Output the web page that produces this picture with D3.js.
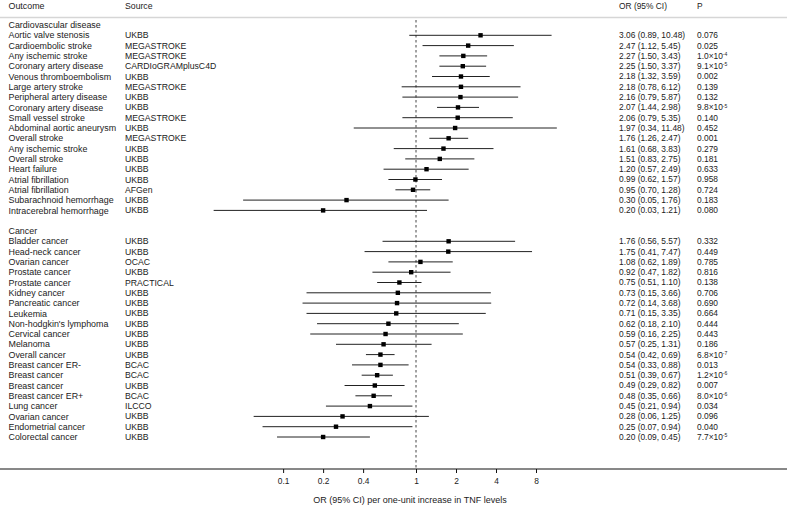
<!DOCTYPE html>
<html>
<head>
<meta charset="utf-8">
<script src="https://cdn.jsdelivr.net/npm/d3@7"></script>
<style>
  html, body { margin: 0; padding: 0; background: #fff; }
  svg { display: block; font-family: "Liberation Sans", Arial, Helvetica, sans-serif; }
</style>
</head>
<body>
<svg id="chart" width="787" height="507"></svg>
<script>
// ---- Data ----
const cvdOutcomes = ["Aortic valve stenosis","Cardioembolic stroke","Any ischemic stroke","Coronary artery disease","Venous thromboembolism","Large artery stroke","Peripheral artery disease","Coronary artery disease","Small vessel stroke","Abdominal aortic aneurysm","Overall stroke","Any ischemic stroke","Overall stroke","Heart failure","Atrial fibrillation","Atrial fibrillation","Subarachnoid hemorrhage","Intracerebral hemorrhage"];
const cvdSources = ["UKBB","MEGASTROKE","MEGASTROKE","CARDIoGRAMplusC4D","UKBB","MEGASTROKE","UKBB","UKBB","MEGASTROKE","UKBB","MEGASTROKE","UKBB","UKBB","UKBB","UKBB","AFGen","UKBB","UKBB"];
const cvdOR    = [3.06,2.47,2.27,2.25,2.18,2.18,2.16,2.07,2.06,1.97,1.76,1.61,1.51,1.20,0.99,0.95,0.30,0.20];
const cvdLower = [0.89,1.12,1.50,1.50,1.32,0.78,0.79,1.44,0.79,0.34,1.26,0.68,0.83,0.57,0.62,0.70,0.05,0.03];
const cvdUpper = [10.48,5.45,3.43,3.37,3.59,6.12,5.87,2.98,5.35,11.48,2.47,3.83,2.75,2.49,1.57,1.28,1.76,1.21];
const cvdP     = ["0.076","0.025","1.0×10|-4","9.1×10|-5","0.002","0.139","0.132","9.8×10|-5","0.140","0.452","0.001","0.279","0.181","0.633","0.958","0.724","0.183","0.080"];

const cancerOutcomes = ["Bladder cancer","Head-neck cancer","Ovarian cancer","Prostate cancer","Prostate cancer","Kidney cancer","Pancreatic cancer","Leukemia","Non-hodgkin's lymphoma","Cervical cancer","Melanoma","Overall cancer","Breast cancer ER-","Breast cancer","Breast cancer","Breast cancer ER+","Lung cancer","Ovarian cancer","Endometrial cancer","Colorectal cancer"];
const cancerSources = ["UKBB","UKBB","OCAC","UKBB","PRACTICAL","UKBB","UKBB","UKBB","UKBB","UKBB","UKBB","UKBB","BCAC","BCAC","UKBB","BCAC","ILCCO","UKBB","UKBB","UKBB"];
const cancerOR    = [1.76,1.75,1.08,0.92,0.75,0.73,0.72,0.71,0.62,0.59,0.57,0.54,0.54,0.51,0.49,0.48,0.45,0.28,0.25,0.20];
const cancerLower = [0.56,0.41,0.62,0.47,0.51,0.15,0.14,0.15,0.18,0.16,0.25,0.42,0.33,0.39,0.29,0.35,0.21,0.06,0.07,0.09];
const cancerUpper = [5.57,7.47,1.89,1.82,1.10,3.66,3.68,3.35,2.10,2.25,1.31,0.69,0.88,0.67,0.82,0.66,0.94,1.25,0.94,0.45];
const cancerP     = ["0.332","0.449","0.785","0.816","0.138","0.706","0.690","0.664","0.444","0.443","0.186","6.8×10|-7","0.013","1.2×10|-6","0.007","8.0×10|-6","0.034","0.096","0.040","7.7×10|-5"];

const groupTitles = ["Cardiovascular disease","Cancer"];
const headers = ["Outcome","Source","OR (95% CI)","P"];
const tickValues = [0.1,0.2,0.4,1,2,4,8];
const tickLabels = ["0.1","0.2","0.4","1","2","4","8"];
const axisTitle = "OR (95% CI) per one-unit increase in TNF levels";

// ---- Build rows ----
const rows = [];
rows.push({type:"group", label: groupTitles[0]});
cvdOutcomes.forEach((o,i)=>rows.push({type:"item", outcome:o, source:cvdSources[i], or:cvdOR[i], lo:cvdLower[i], hi:cvdUpper[i], p:cvdP[i]}));
rows.push({type:"blank"});
rows.push({type:"group", label: groupTitles[1]});
cancerOutcomes.forEach((o,i)=>rows.push({type:"item", outcome:o, source:cancerSources[i], or:cancerOR[i], lo:cancerLower[i], hi:cancerUpper[i], p:cancerP[i]}));
rows.forEach((r,i)=>r.idx=i);

const W = 787, H = 507;
const svg = d3.select("#chart");
const fsLab = 8.9, fsSrc = 8.7, fsNum = 8.4;
const txt = "#222";

const x = d3.scaleLog().base(2).domain([0.1, 8]).range([416 + 40*Math.log2(0.1), 536]);
const y = d3.scaleLinear().domain([0, rows.length-1]).range([25, 25 + 10.3*(rows.length-1)]);

const colX = {outcome: 8.5, source: 125, or: 619, p: 697};

// header
const hdr = svg.append("g");
[["Outcome",colX.outcome,fsLab],["Source",colX.source,fsSrc],["OR (95% CI)",colX.or,fsNum],["P",colX.p,fsNum]].forEach(([t,xx,f])=>{
  hdr.append("text").attr("x",xx).attr("y",6).attr("dy","0.35em")
    .attr("font-size",f).attr("fill",txt).text(t);
});
svg.append("line").attr("x1",0).attr("x2",W).attr("y1",17.5).attr("y2",17.5)
  .attr("stroke","#d6d6d6").attr("stroke-width",1.6);

// reference line
svg.append("line").attr("x1",x(1)).attr("x2",x(1)).attr("y1",20).attr("y2",469)
  .attr("stroke","#444").attr("stroke-width",1).attr("stroke-dasharray","2.5,2.5");

// rows
const g = svg.append("g");
rows.forEach(r=>{
  const yy = y(r.idx);
  if (r.type==="group") {
    g.append("text").attr("x",colX.outcome).attr("y",yy).attr("dy","0.35em")
      .attr("font-size",fsLab).attr("fill",txt).text(r.label);
  } else if (r.type==="item") {
    g.append("text").attr("x",colX.outcome).attr("y",yy).attr("dy","0.35em")
      .attr("font-size",fsLab).attr("fill",txt).text(r.outcome);
    g.append("text").attr("x",colX.source).attr("y",yy).attr("dy","0.35em")
      .attr("font-size",fsSrc).attr("fill",txt).text(r.source);
    g.append("text").attr("x",colX.or).attr("y",yy).attr("dy","0.35em")
      .attr("font-size",fsNum).attr("fill",txt)
      .text(`${r.or.toFixed(2)} (${r.lo.toFixed(2)}, ${r.hi.toFixed(2)})`);
    const pt = g.append("text").attr("x",colX.p).attr("y",yy).attr("dy","0.35em")
      .attr("font-size",fsNum).attr("fill",txt);
    const parts = r.p.split("|");
    pt.append("tspan").text(parts[0]);
    if (parts.length>1) {
      pt.append("tspan").attr("font-size",fsNum*0.6).attr("dy","-0.55em").text(parts[1]);
    }
    g.append("line").attr("x1",x(r.lo)).attr("x2",x(r.hi)).attr("y1",yy).attr("y2",yy)
      .attr("stroke","#222").attr("stroke-width",1);
    g.append("rect").attr("x",x(r.or)-2.2).attr("y",yy-2.2).attr("width",4.4).attr("height",4.4)
      .attr("fill","#000");
  }
});

// axis
svg.append("line").attr("x1",0).attr("x2",W).attr("y1",469).attr("y2",469)
  .attr("stroke","#111").attr("stroke-width",1);
const axis = d3.axisBottom(x).tickValues(tickValues).tickFormat((d,i)=>tickLabels[i]).tickSize(4).tickPadding(5);
const ag = svg.append("g").attr("transform","translate(0,469)").call(axis);
ag.select(".domain").remove();
ag.selectAll("line").attr("stroke","#111");
ag.selectAll("text").attr("font-size",fsNum).attr("fill",txt).attr("font-family","Liberation Sans, Arial, sans-serif");
svg.append("text").attr("x",410).attr("y",500).attr("dy","0.35em").attr("text-anchor","middle")
  .attr("font-size",9).attr("fill",txt).text(axisTitle);
</script>
</body>
</html>
